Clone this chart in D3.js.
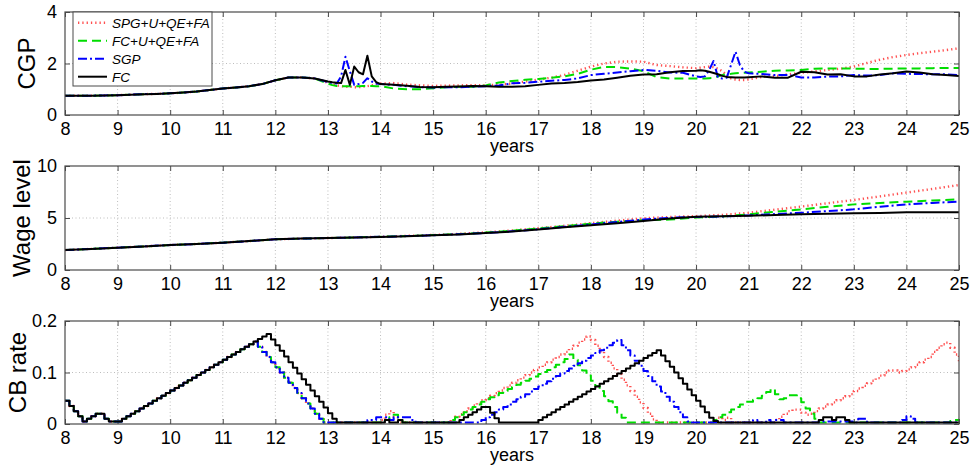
<!DOCTYPE html>
<html><head><meta charset="utf-8">
<script src="https://cdn.jsdelivr.net/npm/d3@7"></script>
<style>body{margin:0;background:#fff}svg{display:block;font-family:"Liberation Sans",Arial,Helvetica,sans-serif}</style>
</head><body><svg id="c" width="975" height="472"></svg>
<script>
// ---------- data ----------
const seriesNames = ["SPG+U+QE+FA", "FC+U+QE+FA", "SGP", "FC"];
const xTicks = [8,9,10,11,12,13,14,15,16,17,18,19,20,21,22,23,24,25];
const cgpTicks = [0,2,4];
const wageTicks = [0,5,10];
const cbTicks = [0,0.1,0.2];

// CGP panel
const cgpYears = [8,8.25,8.5,8.75,9,9.25,9.5,9.75,10,10.25,10.5,10.75,11,11.25,11.5,11.75,12,12.25,12.5,12.75,13,
 13.083,13.167,13.25,13.333,13.417,13.5,13.583,13.667,13.75,13.833,13.917,14,
 14.25,14.5,14.75,15,15.25,15.5,15.75,16,16.25,16.5,16.75,17,17.25,17.5,17.75,18,18.25,18.5,18.75,19,19.25,19.5,19.75,20,
 20.083,20.167,20.25,20.333,20.417,20.5,20.583,20.667,20.75,20.833,20.917,21,
 21.25,21.5,21.75,22,22.25,22.5,22.75,23,23.25,23.5,23.75,24,24.25,24.5,24.75,25];
const cgpCommon = [0.75,0.75,0.75,0.76,0.77,0.79,0.81,0.82,0.84,0.87,0.91,0.97,1.03,1.07,1.12,1.2,1.35,1.46,1.46,1.42];
const cgpFC = cgpCommon.concat([1.3,
 1.27,1.25,1.24,1.75,1.17,1.88,1.66,1.58,2.3,1.5,1.28,1.2,
 1.17,1.14,1.09,1.08,1.1,1.11,1.13,1.12,1.1,1.1,1.12,1.17,1.22,1.24,1.28,1.34,1.38,1.45,1.52,1.57,1.58,1.66,1.71,1.72,
 1.74,1.72,1.68,1.63,1.58,1.52,1.48,1.47,1.46,1.46,1.46,1.47,
 1.5,1.45,1.45,1.68,1.66,1.57,1.58,1.5,1.5,1.57,1.62,1.69,1.65,1.58,1.55,1.51]);
const cgpSPG = cgpCommon.concat([1.25,
 1.2,1.15,1.12,1.1,1.1,1.08,1.08,1.1,1.12,1.15,1.2,1.22,
 1.24,1.18,1.15,1.13,1.14,1.15,1.16,1.16,1.18,1.22,1.3,1.37,1.45,1.56,1.72,1.88,2.0,2.07,2.08,2.07,1.94,1.9,1.85,1.82,
 1.84,1.86,1.88,1.86,1.8,1.7,1.55,1.42,1.38,1.36,1.36,1.38,
 1.48,1.51,1.58,1.64,1.69,1.75,1.8,1.88,2.02,2.15,2.25,2.33,2.4,2.46,2.52,2.59]);
const cgpFCU = cgpCommon.concat([1.22,
 1.16,1.13,1.12,1.12,1.12,1.12,1.12,1.13,1.13,1.13,1.12,1.12,
 1.03,1.0,1.0,1.04,1.08,1.1,1.1,1.15,1.26,1.32,1.37,1.4,1.45,1.5,1.6,1.76,1.87,1.86,1.8,1.7,1.47,1.42,1.42,1.42,
 1.42,1.42,1.43,1.44,1.5,1.55,1.59,1.6,1.62,1.63,1.64,1.65,
 1.68,1.72,1.73,1.75,1.8,1.81,1.81,1.8,1.79,1.79,1.8,1.81,1.81,1.82,1.83,1.83]);
const cgpSGP = cgpCommon.concat([1.28,
 1.25,1.22,1.5,2.26,1.7,1.17,1.2,1.25,1.43,1.3,1.22,1.2,
 1.17,1.12,1.08,1.07,1.08,1.08,1.1,1.12,1.15,1.23,1.25,1.29,1.33,1.36,1.42,1.55,1.6,1.65,1.7,1.75,1.72,1.65,1.64,1.5,
 1.48,1.5,1.75,2.1,1.45,1.42,1.45,1.95,2.46,1.94,1.68,1.62,
 1.59,1.55,1.55,1.46,1.46,1.49,1.5,1.55,1.53,1.55,1.62,1.6,1.59,1.58,1.58,1.55]);

// Wage level panel
const wageYears = [8,8.5,9,9.5,10,10.5,11,11.5,12,12.5,13,13.5,14,14.5,15,15.5,16,16.5,17,17.5,18,18.5,19,19.5,20,20.5,21,21.5,22,22.5,23,23.5,24,24.5,25];
const wageCommon = [1.92,2.03,2.15,2.27,2.4,2.5,2.63,2.78,2.95,3.02,3.07];
const wageFC  = wageCommon.concat([3.12,3.18,3.25,3.33,3.42,3.55,3.7,3.9,4.1,4.3,4.5,4.7,4.95,5.12,5.18,5.22,5.28,5.35,5.4,5.45,5.48,5.55,5.55,5.55]);
const wageSPG = wageCommon.concat([3.13,3.2,3.28,3.37,3.48,3.62,3.8,4.02,4.25,4.5,4.75,4.97,5.1,5.18,5.3,5.5,5.8,6.1,6.42,6.73,7.08,7.44,7.8,8.17]);
const wageFCU = wageCommon.concat([3.13,3.2,3.27,3.36,3.46,3.6,3.78,4.0,4.22,4.45,4.65,4.8,4.85,5.05,5.15,5.35,5.6,5.83,6.08,6.31,6.45,6.57,6.68,6.8]);
const wageSGP = wageCommon.concat([3.13,3.19,3.26,3.34,3.44,3.56,3.72,3.92,4.15,4.38,4.62,4.85,5.02,5.1,5.15,5.25,5.38,5.5,5.67,5.83,6.08,6.31,6.45,6.57]);

// CB rate panel (monthly, step plot)
const cbYears = d3.range(205).map(i => 8 + i / 12);
const cbCommon = [
 .045,.035,.025,.015,.005,.01,.015,.02,.02,.01,.005,.005,
 .005,.01,.015,.02,.025,.03,.035,.04,.045,.05,.055,.06,
 .065,.07,.075,.08,.085,.09,.095,.1,.105,.11,.115,.12];
const cbFC = cbCommon.concat([
 .125,.13,.135,.14,.145,.15,.155,.16,.165,.17,.175,.164,
 .153,.142,.131,.12,.109,.098,.087,.076,.065,.054,.043,.032,
 .021,.01,.003,.003,.003,.003,.003,.003,.003,.003,.003,.003,
 .003,.008,.003,.003,.008,.003,.003,.003,.003,.003,.003,.003,
 .003,.003,.003,.003,.003,.003,.008,.013,.018,.023,.028,.033,
 .033,.022,.011,.003,.003,.003,.003,.003,.003,.003,.003,.003,
 .008,.013,.018,.023,.028,.033,.038,.043,.048,.053,.058,.063,
 .068,.073,.078,.083,.088,.093,.098,.103,.108,.113,.118,.123,
 .128,.133,.138,.143,.133,.122,.111,.1,.089,.078,.067,.056,
 .045,.034,.023,.012,.006,.003,.003,.003,.003,.003,.003,.003,
 .003,.003,.003,.003,.003,.003,.003,.003,.003,.003,.003,.003,
 .003,.003,.003,.003,.008,.013,.013,.008,.013,.013,.008,.003,
 .003,.003,.003,.003,.003,.003,.003,.003,.003,.003,.003,.003,
 .003,.003,.003,.003,.003,.003,.003,.003,.003,.003,.003,.003,
 .003]);
const cbSPG = cbCommon.concat([
 .125,.13,.135,.14,.145,.15,.155,.16,.15,.14,.13,.12,
 .11,.1,.09,.08,.07,.06,.05,.04,.03,.02,.01,.003,
 .003,.003,.003,.003,.003,.003,.003,.003,.003,.003,.003,.003,
 .008,.018,.025,.013,.003,.003,.003,.003,.003,.003,.003,.003,
 .003,.003,.003,.003,.008,.014,.019,.025,.03,.036,.041,.046,
 .05,.055,.06,.065,.07,.075,.08,.085,.09,.095,.1,.105,
 .11,.115,.12,.125,.13,.135,.14,.146,.152,.158,.164,.17,
 .163,.152,.141,.13,.119,.108,.097,.086,.075,.064,.053,.042,
 .031,.02,.009,.003,.003,.003,.003,.003,.003,.003,.003,.003,
 .003,.003,.003,.003,.008,.012,.008,.012,.003,.003,.003,.003,
 .003,.003,.003,.003,.003,.003,.008,.014,.02,.025,.028,.028,
 .022,.018,.02,.025,.03,.034,.038,.042,.046,.05,.054,.058,
 .064,.069,.074,.079,.084,.089,.094,.1,.104,.104,.1,.103,
 .106,.11,.115,.12,.125,.13,.14,.148,.155,.158,.148,.135,
 .122]);
const cbFCU = cbCommon.concat([
 .125,.13,.135,.14,.145,.15,.155,.16,.15,.14,.13,.12,
 .11,.1,.09,.08,.07,.06,.05,.04,.03,.02,.01,.003,
 .003,.003,.003,.003,.003,.003,.003,.003,.003,.003,.003,.003,
 .003,.008,.013,.018,.008,.003,.003,.003,.003,.003,.003,.003,
 .003,.003,.003,.003,.008,.013,.018,.023,.028,.033,.038,.043,
 .048,.052,.056,.06,.064,.068,.072,.076,.08,.084,.088,.092,
 .097,.101,.105,.11,.115,.12,.126,.135,.125,.114,.104,.094,
 .084,.074,.064,.054,.044,.033,.022,.012,.003,.003,.003,.003,
 .003,.003,.003,.003,.003,.003,.003,.003,.003,.003,.003,.003,
 .003,.003,.003,.003,.008,.013,.018,.023,.028,.033,.038,.043,
 .043,.047,.05,.055,.062,.068,.058,.048,.05,.056,.056,.05,
 .042,.03,.02,.01,.003,.003,.003,.003,.003,.003,.003,.003,
 .003,.003,.003,.003,.003,.003,.003,.003,.003,.003,.003,.003,
 .003,.003,.003,.003,.003,.003,.003,.003,.003,.003,.006,.008,
 .01]);
const cbSGP = cbCommon.concat([
 .125,.13,.135,.14,.145,.15,.155,.16,.15,.14,.13,.12,
 .11,.1,.09,.08,.07,.06,.05,.04,.03,.02,.01,.003,
 .003,.003,.003,.003,.003,.003,.003,.003,.003,.008,.008,.013,
 .013,.013,.008,.013,.013,.013,.013,.008,.003,.003,.003,.003,
 .003,.003,.003,.003,.003,.003,.003,.003,.003,.003,.003,.008,
 .013,.018,.023,.028,.033,.038,.043,.048,.053,.058,.063,.068,
 .073,.078,.083,.088,.093,.098,.103,.108,.113,.118,.123,.128,
 .133,.138,.143,.148,.153,.158,.163,.153,.143,.133,.123,.113,
 .103,.093,.083,.073,.063,.053,.043,.033,.023,.013,.005,.003,
 .003,.003,.003,.003,.003,.003,.003,.003,.003,.003,.003,.003,
 .003,.008,.003,.003,.008,.003,.008,.008,.003,.003,.003,.003,
 .003,.003,.003,.003,.005,.005,.005,.005,.005,.005,.005,.005,
 .003,.01,.01,.003,.003,.003,.003,.003,.003,.003,.003,.008,
 .015,.01,.003,.003,.003,.003,.003,.003,.003,.003,.003,.003,
 .003]);

// ---------- drawing ----------
const styles = [
  {color:"#ff5050", dash:"1.3,3", width:2.4},
  {color:"#00dd00", dash:"9,5", width:2},
  {color:"#0000ff", dash:"9,3,2,3", width:2},
  {color:"#000000", dash:null, width:2}
];
const svg = d3.select("#c");
const x = d3.scaleLinear().domain([8,25]).range([65,959]);
const axisCol = "#4a4a4a";

const panels = [
  {top:12, bottom:115, domain:[0,4], ticks:cgpTicks, label:"CGP", labelX:35, years:cgpYears,
   series:[cgpSPG,cgpFCU,cgpSGP,cgpFC], curve:d3.curveLinear},
  {top:166, bottom:270, domain:[0,10], ticks:wageTicks, label:"Wage level", labelX:30, years:wageYears,
   series:[wageSPG,wageFCU,wageSGP,wageFC], curve:d3.curveLinear},
  {top:321, bottom:424, domain:[0,0.2], ticks:cbTicks, label:"CB rate", labelX:26, years:cbYears,
   series:[cbSPG,cbFCU,cbSGP,cbFC], curve:d3.curveStepAfter}
];

panels.forEach((p, pi) => {
  const y = d3.scaleLinear().domain(p.domain).range([p.bottom, p.top]);
  const g = svg.append("g");
  const clipId = "clip" + pi;
  svg.append("clipPath").attr("id", clipId).append("rect")
    .attr("x", 65).attr("y", p.top).attr("width", 959-65).attr("height", p.bottom-p.top);

  // grid
  g.append("g").selectAll("line").data(xTicks.slice(1,-1)).join("line")
    .attr("x1", d=>x(d)).attr("x2", d=>x(d)).attr("y1", p.top).attr("y2", p.bottom)
    .attr("stroke","#bdbdbd").attr("stroke-width",1).attr("stroke-dasharray","1,2.5");
  g.append("g").selectAll("line").data(p.ticks.slice(1,-1)).join("line")
    .attr("x1", 65).attr("x2", 959).attr("y1", d=>y(d)).attr("y2", d=>y(d))
    .attr("stroke","#bdbdbd").attr("stroke-width",1).attr("stroke-dasharray","1,2.5");

  // axes with d3 axis generators (inward ticks)
  const fmtY = d => String(d);
  g.append("g").attr("transform",`translate(0,${p.bottom})`)
    .call(d3.axisBottom(x).tickValues(xTicks).tickSize(-5).tickPadding(7).tickFormat(d=>String(d)))
    .call(a => { a.select(".domain").remove(); a.selectAll("line").attr("stroke",axisCol);
      a.selectAll("text").attr("font-size",18).attr("fill","#000").attr("font-family","Liberation Sans, Arial, sans-serif"); });
  g.append("g").attr("transform",`translate(0,${p.top})`)
    .call(d3.axisTop(x).tickValues(xTicks).tickSize(-5).tickFormat(""))
    .call(a => { a.select(".domain").remove(); a.selectAll("line").attr("stroke",axisCol); });
  g.append("g").attr("transform","translate(65,0)")
    .call(d3.axisLeft(y).tickValues(p.ticks).tickSize(-5).tickPadding(8).tickFormat(fmtY))
    .call(a => { a.select(".domain").remove(); a.selectAll("line").attr("stroke",axisCol);
      a.selectAll("text").attr("font-size",18).attr("fill","#000").attr("font-family","Liberation Sans, Arial, sans-serif"); });
  g.append("g").attr("transform","translate(959,0)")
    .call(d3.axisRight(y).tickValues(p.ticks).tickSize(-5).tickFormat(""))
    .call(a => { a.select(".domain").remove(); a.selectAll("line").attr("stroke",axisCol); });

  // lines
  const lg = g.append("g").attr("clip-path", `url(#${clipId})`);
  p.series.forEach((vals, si) => {
    const st = styles[si];
    const line = d3.line().x((d,i)=>x(p.years[i])).y(d=>y(d)).curve(p.curve);
    lg.append("path").datum(vals).attr("d", line)
      .attr("fill","none").attr("stroke", st.color).attr("stroke-width", st.width)
      .attr("stroke-dasharray", st.dash).attr("stroke-linejoin","round");
  });

  // box
  g.append("rect").attr("x",65).attr("y",p.top).attr("width",959-65).attr("height",p.bottom-p.top)
    .attr("fill","none").attr("stroke",axisCol).attr("stroke-width",1.2);

  // labels
  g.append("text").attr("x", (65+959)/2).attr("y", p.bottom + 37).attr("text-anchor","middle")
    .attr("font-size",18).text("years");
  g.append("text").attr("transform",`translate(${p.labelX},${(p.top+p.bottom)/2}) rotate(-90)`)
    .attr("text-anchor","middle").attr("font-size",24).text(p.label);
});

// legend
const leg = svg.append("g");
leg.append("rect").attr("x",73).attr("y",12).attr("width",139).attr("height",74)
  .attr("fill","#fff").attr("stroke",axisCol).attr("stroke-width",1);
seriesNames.forEach((n,i) => {
  const yy = 22.7 + i*18;
  const st = styles[i];
  leg.append("line").attr("x1",78).attr("x2",107).attr("y1",yy).attr("y2",yy)
    .attr("stroke",st.color).attr("stroke-width",st.width).attr("stroke-dasharray",st.dash);
  leg.append("text").attr("x",112).attr("y",yy).attr("dy","0.36em")
    .attr("font-size",13.5).attr("font-style","italic").text(n);
});
</script>
</body></html>
